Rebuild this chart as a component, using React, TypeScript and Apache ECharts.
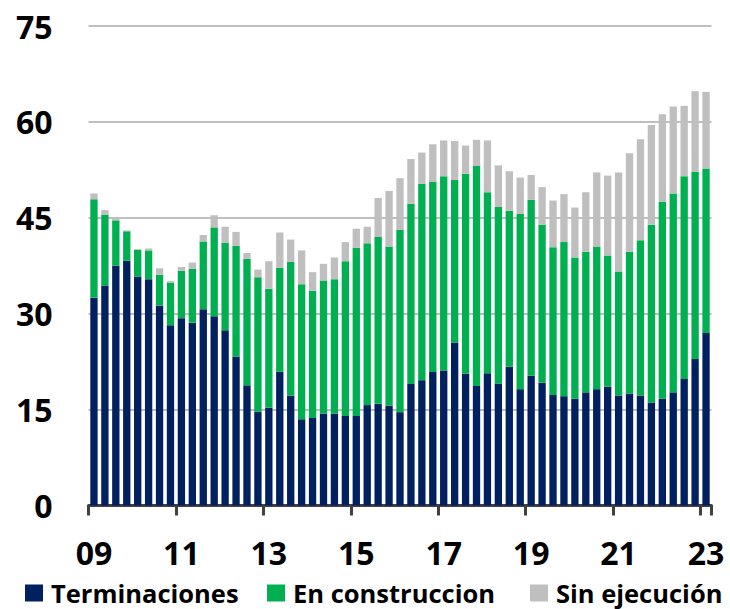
import React, { useEffect, useRef } from "react";
import * as echarts from "echarts";

// Quarterly categories 2009Q1 .. 2023Q1
const years = ["09","10","11","12","13","14","15","16","17","18","19","20","21","22","23"];
const categories: string[] = [];
years.forEach((y, yi) => {
  const qs = yi === years.length - 1 ? 1 : 4;
  for (let q = 1; q <= qs; q++) categories.push(q === 1 ? y : `${y}Q${q}`);
});

const terminaciones = [
  32.5, 34.4, 37.5, 38.3, 35.8, 35.4, 31.3, 28.2, 29.3, 28.6,
  30.7, 29.6, 27.4, 23.3, 18.8, 14.7, 15.3, 20.9, 17.2, 13.5,
  13.7, 14.4, 14.4, 14.0, 14.0, 15.7, 15.9, 15.6, 14.6, 19.0,
  19.6, 20.9, 21.1, 25.5, 20.6, 18.7, 20.7, 19.1, 21.7, 18.2,
  20.3, 19.2, 17.3, 17.1, 16.7, 17.7, 18.2, 18.6, 17.2, 17.5,
  17.2, 16.1, 16.7, 17.7, 19.8, 22.9, 27.0,
];
const enConstruccion = [
  15.4, 11.1, 7.1, 4.6, 4.2, 4.5, 4.8, 6.6, 7.4, 8.4,
  10.6, 13.9, 13.7, 17.3, 19.8, 21.0, 18.6, 16.3, 20.9, 21.1,
  19.9, 20.8, 21.0, 24.2, 26.3, 25.3, 26.1, 24.9, 28.5, 28.2,
  30.7, 29.7, 30.4, 25.4, 31.3, 34.4, 28.3, 27.6, 24.4, 27.4,
  27.5, 24.7, 23.1, 24.1, 22.1, 22.0, 22.3, 20.5, 19.4, 22.2,
  24.3, 27.8, 30.8, 31.1, 31.7, 29.3, 25.7,
];
const sinEjecucion = [
  0.9, 0.7, 0.2, 0.1, 0.1, 0.3, 1.0, 0.3, 0.6, 1.0,
  1.0, 1.9, 2.5, 2.2, 0.9, 1.2, 4.3, 5.5, 3.5, 5.3,
  2.9, 2.6, 3.4, 3.0, 3.0, 2.6, 6.1, 8.7, 8.1, 7.0,
  4.9, 5.9, 5.6, 6.1, 4.4, 4.1, 8.1, 6.5, 6.2, 5.7,
  3.9, 5.9, 7.3, 7.5, 7.8, 9.3, 11.6, 12.5, 15.5, 15.4,
  15.8, 15.6, 13.7, 13.6, 11.0, 12.6, 12.0,
];

const seriesNames = ["Terminaciones", "En construccion", "Sin ejecución"];
const seriesColors = ["#002060", "#00B050", "#BFBFBF"];

const FONT = "'Open Sans', Lato, sans-serif";

export default function App() {
  const ref = useRef<HTMLDivElement>(null);
  useEffect(() => {
    if (!ref.current) return;
    const chart = echarts.init(ref.current, undefined, { renderer: "svg" });
    const data = [terminaciones, enConstruccion, sinEjecucion];
    const legendLefts = [25, 267, 530];
    chart.setOption({
      animation: false,
      backgroundColor: "#ffffff",
      textStyle: { fontFamily: FONT },
      grid: { left: 88.5, right: 18.5, top: 26, bottom: 103.5, containLabel: false },
      legend: seriesNames.map((name, i) => ({
        data: [name],
        left: legendLefts[i],
        top: 580,
        padding: 0,
        itemWidth: 18,
        itemHeight: 17,
        icon: "rect",
        textStyle: { fontFamily: FONT, fontWeight: "bold", fontSize: 25.5, lineHeight: 25, color: "#000", padding: [0, 0, 0, 3] },
      })),
      xAxis: {
        type: "category",
        data: categories,
        boundaryGap: true,
        offset: 2,
        axisLine: { show: true, lineStyle: { color: "#404040", width: 3 } },
        axisTick: { show: true, interval: 7, length: 10, lineStyle: { color: "#404040", width: 3 } },
        axisLabel: {
          interval: 7,
          margin: 29,
          fontFamily: FONT,
          fontWeight: "bold",
          fontSize: 32,
          color: "#000",
          formatter: (v: string) => v.slice(0, 2),
        },
      },
      yAxis: {
        type: "value",
        min: 0,
        max: 75,
        interval: 15,
        axisLine: { show: false },
        axisTick: { show: false },
        axisLabel: { margin: 36, fontFamily: FONT, fontWeight: "bold", fontSize: 32, color: "#000" },
        splitLine: { show: true, lineStyle: { color: "#BFBFBF", width: 2 } },
      },
      series: seriesNames.map((name, i) => ({
        name,
        type: "bar",
        stack: "total",
        data: data[i],
        barCategoryGap: "33%",
        itemStyle: { color: seriesColors[i] },
      })),
    });
    return () => chart.dispose();
  }, []);
  return <div ref={ref} style={{ position: "fixed", left: 0, top: 0, width: 730, height: 609 }} />;
}
